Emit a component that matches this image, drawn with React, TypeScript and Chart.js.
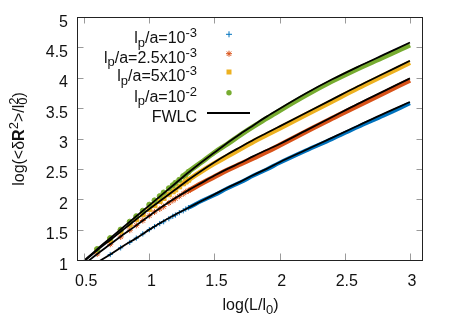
import React, { useEffect, useRef } from 'react';
import { Chart, registerables } from 'chart.js';

Chart.register(...registerables);

// log(L/l0) at which the simulated points are sampled
const xSim = [0.6, 0.7, 0.78, 0.85, 0.9, 0.95, 1.0, 1.04, 1.08, 1.11, 1.15, 1.18, 1.2, 1.23, 1.26, 1.28, 1.3,
  1.4, 1.5, 1.6, 1.7, 1.8, 1.9, 2.0, 2.2, 2.4, 2.6, 2.8, 3.0];
// log(<dR^2>/l0^2) for each persistence length
const simLp1e3 = [null, 1.09, 1.2, 1.29, 1.36, 1.43, 1.5, 1.55, 1.6, 1.63, 1.68, 1.72, 1.74, 1.78, 1.81, 1.84, 1.86,
  1.97, 2.07, 2.18, 2.28, 2.39, 2.49, 2.6, 2.8, 2.99, 3.19, 3.38, 3.58];
const simLp25e4 = [1.1, 1.26, 1.38, 1.49, 1.57, 1.65, 1.73, 1.79, 1.84, 1.88, 1.94, 1.98, 2.01, 2.05, 2.09, 2.12, 2.14,
  2.26, 2.37, 2.48, 2.58, 2.68, 2.78, 2.89, 3.11, 3.33, 3.54, 3.75, 3.96];
const simLp5e3 = [1.16, 1.33, 1.47, 1.58, 1.67, 1.75, 1.84, 1.9, 1.97, 2.02, 2.08, 2.13, 2.16, 2.21, 2.26, 2.29, 2.32,
  2.46, 2.59, 2.71, 2.83, 2.95, 3.06, 3.17, 3.39, 3.61, 3.83, 4.04, 4.25];
const simLp1e2 = [1.18, 1.36, 1.5, 1.63, 1.72, 1.81, 1.91, 1.98, 2.05, 2.11, 2.18, 2.23, 2.27, 2.32, 2.38, 2.41, 2.45,
  2.61, 2.77, 2.91, 3.06, 3.2, 3.33, 3.46, 3.71, 3.94, 4.15, 4.34, 4.54];

// FWLC model curves
const xFit = [0.5, 0.6, 0.7, 0.8, 0.9, 1.0, 1.1, 1.2, 1.3, 1.4, 1.5, 1.6, 1.7, 1.8, 1.9, 2.0, 2.2, 2.4, 2.6, 2.8, 3.0];
const fitLp1e3 = [0.83, 0.96, 1.09, 1.23, 1.36, 1.5, 1.63, 1.75, 1.86, 1.97, 2.08, 2.19, 2.29, 2.4, 2.5, 2.61, 2.81, 3.01, 3.21, 3.41, 3.6];
const fitLp25e4 = [0.93, 1.1, 1.26, 1.42, 1.57, 1.73, 1.88, 2.02, 2.15, 2.27, 2.39, 2.5, 2.6, 2.71, 2.81, 2.91, 3.13, 3.35, 3.57, 3.78, 3.99];
const fitLp5e3 = [0.98, 1.16, 1.33, 1.5, 1.67, 1.84, 2.0, 2.16, 2.32, 2.47, 2.61, 2.74, 2.86, 2.98, 3.09, 3.2, 3.42, 3.64, 3.86, 4.07, 4.28];
const fitLp1e2 = [0.99, 1.18, 1.36, 1.54, 1.72, 1.9, 2.08, 2.26, 2.44, 2.61, 2.77, 2.93, 3.08, 3.22, 3.36, 3.49, 3.74, 3.97, 4.18, 4.38, 4.58];

const xTicks = [0.5, 1, 1.5, 2, 2.5, 3];
const yTicks = [1, 1.5, 2, 2.5, 3, 3.5, 4, 4.5, 5];
const xTickLabels = ['0.5', '1', '1.5', '2', '2.5', '3'];
const yTickLabels = ['1', '1.5', '2', '2.5', '3', '3.5', '4', '4.5', '5'];

const BLUE = '#0072bd';
const RED = '#d95319';
const YELLOW = '#edb120';
const GREEN = '#77ac30';

const FAMILY = '"Liberation Sans", Arial, Helvetica, sans-serif';
const MAIN = 16;
const SMALL = 13;

type Seg = { text: string; mode?: 'sub' | 'sup' | 'bold'; over?: string };

const legendRows: { segs: Seg[]; marker: string }[] = [
  { segs: [{ text: 'l' }, { text: 'p', mode: 'sub' }, { text: '/a=10' }, { text: '-3', mode: 'sup' }], marker: 'plus' },
  { segs: [{ text: 'l' }, { text: 'p', mode: 'sub' }, { text: '/a=2.5x10' }, { text: '-3', mode: 'sup' }], marker: 'star' },
  { segs: [{ text: 'l' }, { text: 'p', mode: 'sub' }, { text: '/a=5x10' }, { text: '-3', mode: 'sup' }], marker: 'square' },
  { segs: [{ text: 'l' }, { text: 'p', mode: 'sub' }, { text: '/a=10' }, { text: '-2', mode: 'sup' }], marker: 'circle' },
  { segs: [{ text: 'FWLC' }], marker: 'line' },
];

const xTitle: Seg[] = [{ text: 'log(L/l' }, { text: '0', mode: 'sub' }, { text: ')' }];
const yTitle: Seg[] = [
  { text: 'log(<δ' }, { text: 'R', mode: 'bold' }, { text: '2', mode: 'sup' },
  { text: '>/l' }, { text: '0', mode: 'sub', over: '2' }, { text: ')' },
];

function segFont(mode?: string) {
  if (mode === 'bold') return `bold ${MAIN}px ${FAMILY}`;
  if (mode === 'sub' || mode === 'sup') return `${SMALL}px ${FAMILY}`;
  return `${MAIN}px ${FAMILY}`;
}

function drawRich(ctx: CanvasRenderingContext2D, segs: Seg[], x: number, y: number, align: 'left' | 'right' | 'center') {
  const widths = segs.map((s) => {
    ctx.font = segFont(s.mode);
    let w = ctx.measureText(s.text).width;
    if (s.over) w = Math.max(w, ctx.measureText(s.over).width);
    return w;
  });
  const total = widths.reduce((a, b) => a + b, 0);
  let cx = align === 'left' ? x : align === 'right' ? x - total : x - total / 2;
  ctx.textAlign = 'left';
  ctx.textBaseline = 'alphabetic';
  segs.forEach((s, i) => {
    ctx.font = segFont(s.mode);
    const dy = s.mode === 'sub' ? 3.5 : s.mode === 'sup' ? -6 : 0;
    ctx.fillText(s.text, cx, y + dy);
    if (s.over) ctx.fillText(s.over, cx, y - 6);
    cx += widths[i];
  });
}

function drawMarker(ctx: CanvasRenderingContext2D, kind: string, x: number, y: number) {
  ctx.save();
  ctx.lineWidth = 1;
  if (kind === 'plus') {
    ctx.strokeStyle = BLUE;
    ctx.beginPath();
    ctx.moveTo(x - 3, y); ctx.lineTo(x + 3, y);
    ctx.moveTo(x, y - 3); ctx.lineTo(x, y + 3);
    ctx.stroke();
  } else if (kind === 'star') {
    ctx.strokeStyle = RED;
    ctx.beginPath();
    ctx.moveTo(x - 3, y); ctx.lineTo(x + 3, y);
    ctx.moveTo(x, y - 3); ctx.lineTo(x, y + 3);
    ctx.moveTo(x - 2.2, y - 2.2); ctx.lineTo(x + 2.2, y + 2.2);
    ctx.moveTo(x - 2.2, y + 2.2); ctx.lineTo(x + 2.2, y - 2.2);
    ctx.stroke();
  } else if (kind === 'square') {
    ctx.fillStyle = YELLOW;
    ctx.fillRect(x - 2.5, y - 2.5, 5, 5);
  } else if (kind === 'circle') {
    ctx.fillStyle = GREEN;
    ctx.beginPath();
    ctx.arc(x, y, 2.7, 0, Math.PI * 2);
    ctx.fill();
  } else if (kind === 'line') {
    ctx.strokeStyle = '#000';
    ctx.lineWidth = 1.8;
    ctx.beginPath();
    ctx.moveTo(207, y); ctx.lineTo(250, y);
    ctx.stroke();
  }
  ctx.restore();
}

const framePlugin = {
  id: 'frame',
  afterDraw(chart: any) {
    const { ctx, chartArea: a, scales } = chart;
    const xs = scales.x;
    const ys = scales.y;
    ctx.save();
    // inward ticks on all four sides
    ctx.strokeStyle = '#9a9a9a';
    ctx.lineWidth = 1;
    ctx.beginPath();
    xTicks.forEach((v) => {
      const px = Math.round(xs.getPixelForValue(v)) + 0.5;
      ctx.moveTo(px, a.bottom); ctx.lineTo(px, a.bottom - 6.5);
      ctx.moveTo(px, a.top); ctx.lineTo(px, a.top + 6.5);
    });
    yTicks.forEach((v) => {
      const py = Math.round(ys.getPixelForValue(v)) + 0.5;
      ctx.moveTo(a.left, py); ctx.lineTo(a.left + 6.5, py);
      ctx.moveTo(a.right, py); ctx.lineTo(a.right - 6.5, py);
    });
    ctx.stroke();
    // plot border
    ctx.strokeStyle = '#222';
    ctx.strokeRect(Math.round(a.left) + 0.5, Math.round(a.top) + 0.5,
      Math.round(a.right - a.left) - 1, Math.round(a.bottom - a.top));

    ctx.fillStyle = '#111';
    ctx.font = `${MAIN}px ${FAMILY}`;
    ctx.textBaseline = 'alphabetic';
    ctx.textAlign = 'center';
    xTicks.forEach((v, i) => {
      ctx.fillText(xTickLabels[i], xs.getPixelForValue(v) + 2, a.bottom + 26);
    });
    ctx.textAlign = 'right';
    yTicks.forEach((v, i) => {
      ctx.fillText(yTickLabels[i], a.left - 9, ys.getPixelForValue(v) + 9.5);
    });

    // axis titles
    drawRich(ctx, xTitle, (a.left + a.right) / 2 + 0.5, a.bottom + 50, 'center');
    ctx.save();
    ctx.translate(23.5, 139);
    ctx.rotate(-Math.PI / 2);
    drawRich(ctx, yTitle, 0, 0, 'center');
    ctx.restore();

    // key
    const baselines = [43.3, 62.7, 81, 101.7, 122];
    legendRows.forEach((row, i) => {
      ctx.fillStyle = '#111';
      drawRich(ctx, row.segs, 197, baselines[i], 'right');
      drawMarker(ctx, row.marker, 229, baselines[i] - 9);
    });
    ctx.restore();
  },
};

function pts(xs: number[], ys: (number | null)[]) {
  return xs.map((x, i) => ({ x, y: ys[i] }));
}

// the dense part of each run is drawn as a band; the early, sparse points stay separate
const DENSE_FROM = 1.29;
const bandSegment = { borderColor: (c: any) => (c.p0.parsed.x < DENSE_FROM ? 'rgba(0,0,0,0)' : undefined) };

export default function App() {
  const ref = useRef<HTMLCanvasElement | null>(null);

  useEffect(() => {
    if (!ref.current) return;
    const fit = (label: string, ys: number[]) => ({
      label,
      data: pts(xFit, ys),
      showLine: true,
      borderColor: '#000',
      borderWidth: 1.8,
      pointRadius: 0,
      cubicInterpolationMode: 'monotone' as const,
      clip: 0,
    });
    const sim = (label: string, ys: (number | null)[], color: string, style: string, radius: number, band: number) => ({
      label,
      data: pts(xSim, ys),
      showLine: true,
      borderColor: color,
      backgroundColor: color,
      borderWidth: band,
      pointStyle: style,
      pointRadius: (c: any) => (c.raw && c.raw.x > DENSE_FROM + 0.02 ? 0 : radius),
      pointBorderWidth: 1,
      pointBorderColor: color,
      pointBackgroundColor: color,
      cubicInterpolationMode: 'monotone' as const,
      segment: bandSegment,
      spanGaps: true,
      clip: 0,
    });
    const chart = new Chart(ref.current, {
      type: 'scatter',
      data: {
        datasets: [
          fit('FWLC 1e-3', fitLp1e3),
          fit('FWLC 2.5e-3', fitLp25e4),
          fit('FWLC 5e-3', fitLp5e3),
          fit('FWLC 1e-2', fitLp1e2),
          sim('lp/a=10^-2', simLp1e2, GREEN, 'circle', 2.6, 5),
          sim('lp/a=5x10^-3', simLp5e3, YELLOW, 'rect', 3.4, 5),
          sim('lp/a=2.5x10^-3', simLp25e4, RED, 'star', 3, 5),
          sim('lp/a=10^-3', simLp1e3, BLUE, 'cross', 2.6, 4),
        ] as any,
      },
      options: {
        animation: false,
        responsive: false,
        devicePixelRatio: 1,
        layout: { padding: { left: 77, right: 27, top: 17, bottom: 70 } },
        scales: {
          x: { type: 'linear', min: 0.445, max: 3.1, display: false },
          y: { type: 'linear', min: 1, max: 5, display: false },
        },
        plugins: { legend: { display: false }, tooltip: { enabled: false } },
        events: [],
      },
      plugins: [framePlugin],
    });
    return () => chart.destroy();
  }, []);

  return (
    <div style={{ position: 'fixed', left: 0, top: 0, width: 450, height: 330, background: '#fff' }}>
      <canvas ref={ref} width={450} height={330} />
    </div>
  );
}
